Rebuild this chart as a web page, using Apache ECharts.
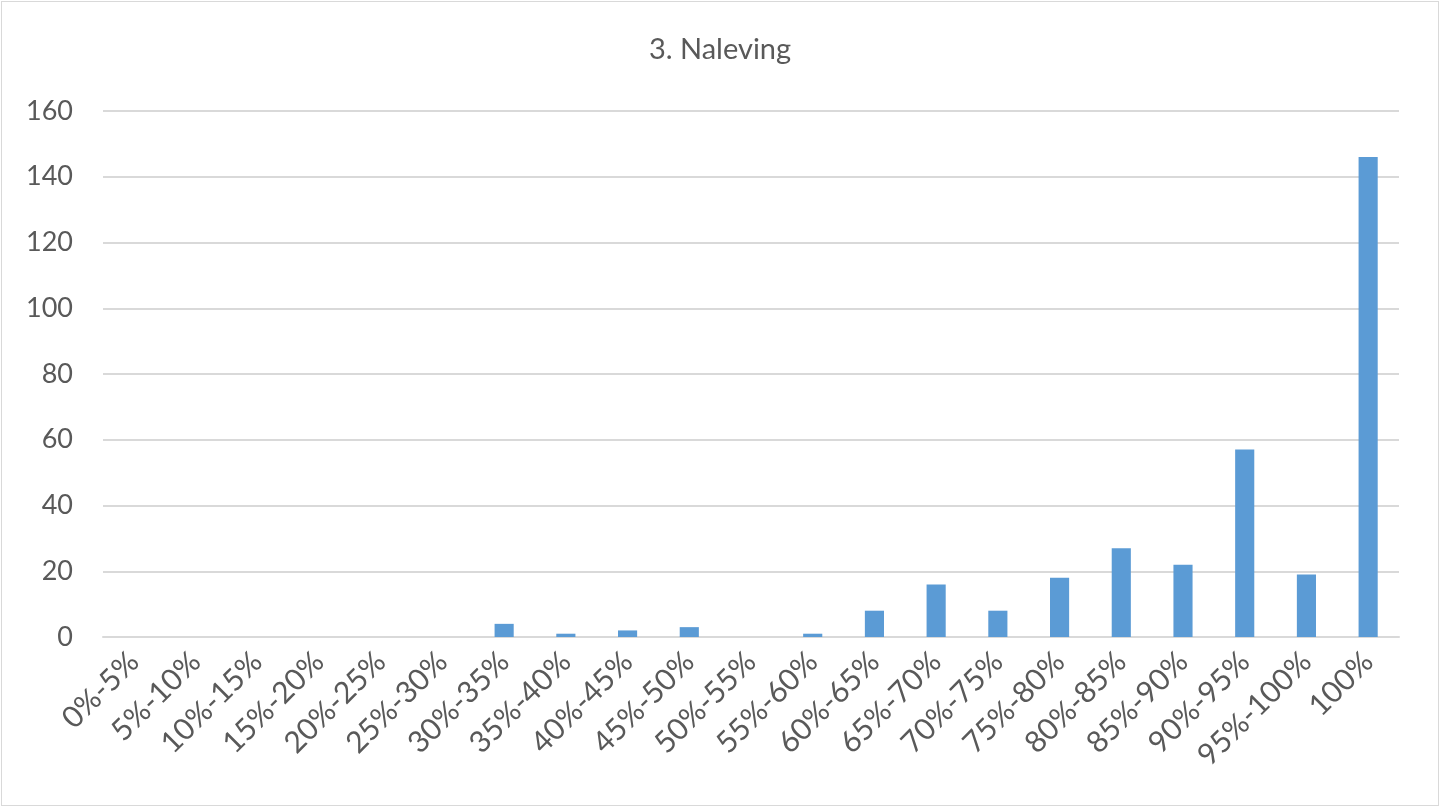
<!DOCTYPE html>
<html>
<head>
<meta charset="utf-8">
<script src="https://cdn.jsdelivr.net/npm/echarts@6/dist/echarts.min.js"></script>
<style>
html,body{margin:0;padding:0;background:#fff;}
#wrap{position:absolute;left:1px;top:1px;width:1436px;height:803px;border:1px solid #d9d9d9;}
#chart{position:absolute;left:0;top:0;width:1440px;height:807px;}
</style>
</head>
<body>
<div id="wrap"></div>
<div id="chart"></div>
<script>
const categories = ['0%-5%','5%-10%','10%-15%','15%-20%','20%-25%','25%-30%','30%-35%','35%-40%','40%-45%','45%-50%','50%-55%','55%-60%','60%-65%','65%-70%','70%-75%','75%-80%','80%-85%','85%-90%','90%-95%','95%-100%','100%'];
const values = [0,0,0,0,0,0,4,1,2,3,0,1,8,16,8,18,27,22,57,19,146];
const titleText = '3. Naleving';
const yMin = 0, yMax = 160, yStep = 20;

const chart = echarts.init(document.getElementById('chart'), null, {renderer:'canvas'});
const font = 'Lato, "Open Sans", sans-serif';
chart.setOption({
  animation:false,
  backgroundColor:'transparent',
  title:{text:titleText,left:'center',top:30,textStyle:{fontFamily:font,fontSize:29,fontWeight:'normal',color:'#595959'}},
  grid:{left:103,right:41,top:111,bottom:170,containLabel:false},
  xAxis:{type:'category',data:categories,
    axisLine:{show:true,lineStyle:{color:'#d9d9d9',width:2}},
    axisTick:{show:false},
    axisLabel:{rotate:45,interval:0,margin:20,fontFamily:font,fontSize:30,color:'#595959'}},
  yAxis:{type:'value',min:yMin,max:yMax,interval:yStep,
    axisLine:{show:false},axisTick:{show:false},
    splitLine:{lineStyle:{color:'#d9d9d9',width:2}},
    axisLabel:{margin:30,fontFamily:font,fontSize:27,color:'#595959'}},
  series:[{type:'bar',data:values,barWidth:'31%',
    itemStyle:{color:'#5b9bd5'}}]
});
</script>
</body>
</html>
